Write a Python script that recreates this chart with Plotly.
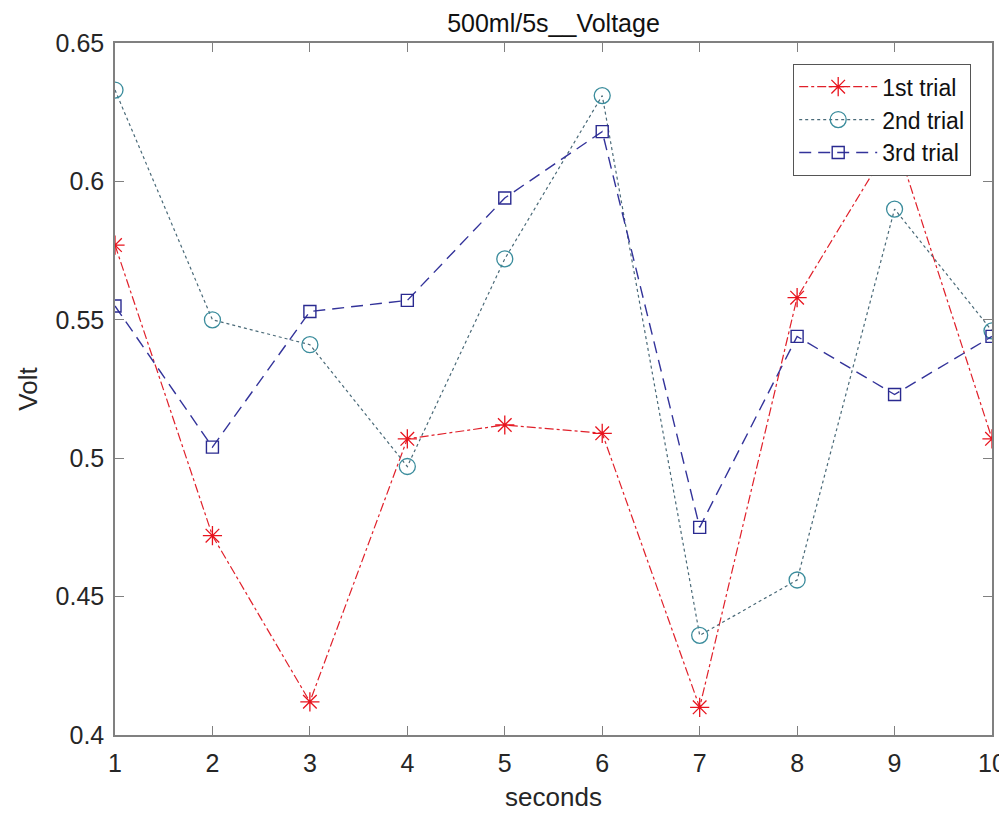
import plotly.graph_objects as go

seconds = [1, 2, 3, 4, 5, 6, 7, 8, 9, 10]
trial1 = [0.577, 0.472, 0.412, 0.507, 0.512, 0.509, 0.410, 0.558, 0.616, 0.507]
trial2 = [0.633, 0.550, 0.541, 0.497, 0.572, 0.631, 0.436, 0.456, 0.590, 0.546]
trial3 = [0.555, 0.504, 0.553, 0.557, 0.594, 0.618, 0.475, 0.544, 0.523, 0.544]
x_ticks = [1, 2, 3, 4, 5, 6, 7, 8, 9, 10]
y_ticks = [0.4, 0.45, 0.5, 0.55, 0.6, 0.65]
y_tick_text = ["0.4", "0.45", "0.5", "0.55", "0.6", "0.65"]

FONT = "Liberation Sans, Arial, sans-serif"
TXT = "#262626"
AX = "#808080"

# page has an 8px body margin, so the figure is sized to fit inside the window
W, H = 999, 812
L, R, T, B = 107, 15, 35, 85
PW, PH = W - L - R, H - T - B

fig = go.Figure()
fig.add_trace(go.Scatter(
    x=seconds, y=trial1, name="1st trial", mode="lines+markers",
    line=dict(color="#e0202a", width=1.2, dash="dashdot"),
    marker=dict(symbol="asterisk-open", size=16, color="#e8141e", line=dict(width=1.3, color="#e8141e")),
))
fig.add_trace(go.Scatter(
    x=seconds, y=trial2, name="2nd trial", mode="lines+markers",
    line=dict(color="#4a6a78", width=1.2, dash="dot"),
    marker=dict(symbol="circle-open", size=16, color="#3a8c9c", line=dict(width=1.3, color="#3a8c9c")),
))
fig.add_trace(go.Scatter(
    x=seconds, y=trial3, name="3rd trial", mode="lines+markers",
    line=dict(color="#33339a", width=1.4, dash="12px,7px"),
    marker=dict(symbol="square-open", size=12, color="#2a2a90", line=dict(width=1.4, color="#2a2a90")),
))

fig.update_layout(
    width=W, height=H,
    margin=dict(l=L, r=R, t=T, b=B),
    paper_bgcolor="white", plot_bgcolor="white",
    font=dict(family=FONT, color=TXT, size=25),
    title=dict(text="500ml/5s__Voltage", x=(L + PW / 2) / W, xanchor="center",
               y=1 - 15 / H, yanchor="middle", yref="container",
               font=dict(family=FONT, size=25, color="#111111")),
    showlegend=True,
    legend=dict(x=(971 - 115) / 877, xanchor="right", y=1 - (64 - 43) / 692, yanchor="top",
                bordercolor="#555555", borderwidth=1.2, bgcolor="white",
                font=dict(family=FONT, size=23, color="#111111"),
                itemwidth=78, tracegroupgap=0),
)
fig.update_xaxes(
    range=[1, 10], tickvals=x_ticks, ticktext=[str(v) for v in x_ticks],
    showline=True, linecolor=AX, linewidth=1.5, mirror="ticks",
    ticks="inside", ticklen=9, tickcolor=AX, tickwidth=1,
    showgrid=False, zeroline=False, ticklabelstandoff=5, automargin=False,
    tickfont=dict(family=FONT, size=25, color=TXT),
    title=dict(text="seconds", font=dict(family=FONT, size=26, color=TXT), standoff=12),
)
fig.update_yaxes(
    range=[0.4, 0.65], tickvals=y_ticks, ticktext=y_tick_text,
    showline=True, linecolor=AX, linewidth=1.5, mirror="ticks",
    ticks="inside", ticklen=9, tickcolor=AX, tickwidth=1,
    showgrid=False, zeroline=False, ticklabelstandoff=4, automargin=False,
    tickfont=dict(family=FONT, size=25, color=TXT),
    title=dict(text="Volt", font=dict(family=FONT, size=26, color=TXT), standoff=10),
)

fig.write_html("out.html")
